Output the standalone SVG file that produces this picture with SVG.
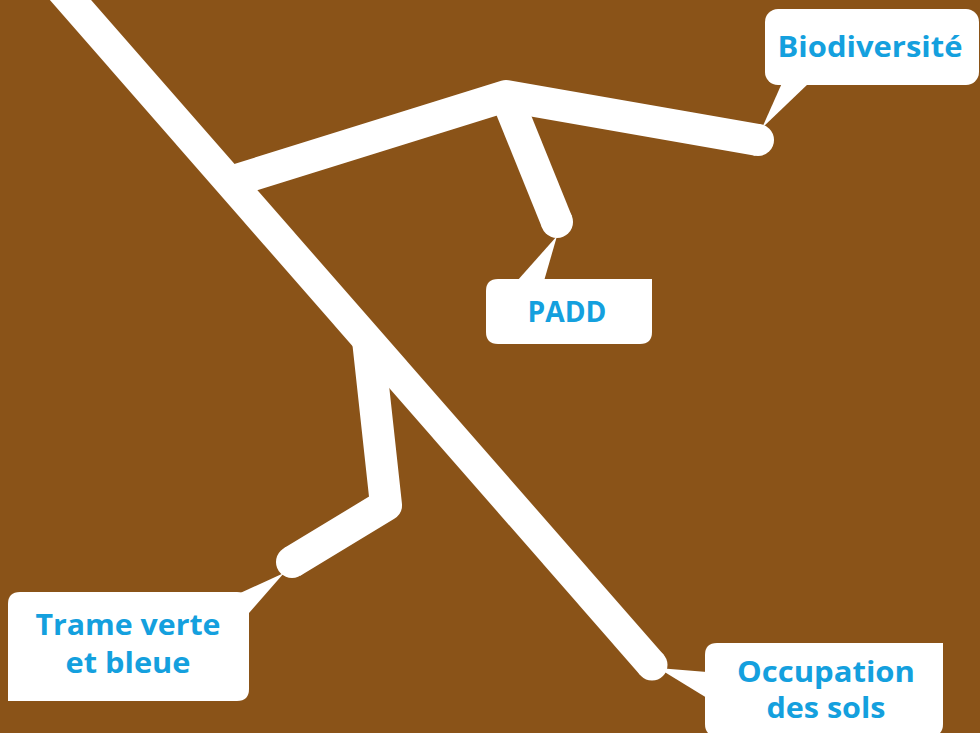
<svg xmlns="http://www.w3.org/2000/svg" width="980" height="733" viewBox="0 0 980 733">
  <style>
    .bg { fill: #8a5318; }
    .branch { fill: none; stroke: #ffffff; stroke-linecap: butt; stroke-linejoin: round; }
    .tip { fill: #ffffff; }
    .bubble { fill: #ffffff; }
    .label { font-family: "Open Sans", "Liberation Sans", sans-serif; font-weight: 700; font-size: 28px; fill: #14a0de; text-anchor: middle; }
  </style>

  <rect class="bg" x="0" y="0" width="980" height="733"/>

  <!-- tree of white branches: flat where they join the trunk, rounded at the free ends -->
  <g id="connectors">
    <path class="branch" stroke-width="31" d="M53,-20 L652,665"/>
    <circle class="tip" cx="652" cy="665" r="15.5"/>

    <path class="branch" stroke-width="32" d="M227,183 L506,96 L758,140"/>
    <circle class="tip" cx="758" cy="140" r="16"/>

    <path class="branch" stroke-width="32" d="M506,96 L557,222"/>
    <circle class="tip" cx="557" cy="222" r="16"/>

    <path class="branch" stroke-width="32" d="M368,340 L386,505 L292,562"/>
    <circle class="tip" cx="292" cy="562" r="16"/>
  </g>

  <!-- callout: Biodiversité -->
  <g id="biodiversite">
    <rect class="bubble" x="765" y="9" width="214" height="76" rx="13"/>
    <polygon class="bubble" points="782,83 809,83 762,128"/>
    <text class="label" x="870" y="57" textLength="185" lengthAdjust="spacingAndGlyphs">Biodiversité</text>
  </g>

  <!-- callout: PADD -->
  <g id="padd">
    <path class="bubble" d="M498,279 H652 V332 Q652,344 640,344 H498 Q486,344 486,332 V291 Q486,279 498,279 Z"/>
    <polygon class="bubble" points="517,281 544,281 557,236"/>
    <text class="label" x="567" y="322" textLength="79" lengthAdjust="spacingAndGlyphs">PADD</text>
  </g>

  <!-- callout: Trame verte et bleue -->
  <g id="trame">
    <path class="bubble" d="M20,592 H237 Q249,592 249,604 V689 Q249,701 237,701 H8 V604 Q8,592 20,592 Z"/>
    <polygon class="bubble" points="238,594 249,613 284,573"/>
    <text class="label" x="128" y="635" textLength="185" lengthAdjust="spacingAndGlyphs">Trame verte</text>
    <text class="label" x="128" y="673" textLength="125" lengthAdjust="spacingAndGlyphs">et bleue</text>
  </g>

  <!-- callout: Occupation des sols -->
  <g id="occupation">
    <path class="bubble" d="M717,643 H943 V724 Q943,736 931,736 H717 Q705,736 705,724 V655 Q705,643 717,643 Z"/>
    <polygon class="bubble" points="707,672 707,698 658,668"/>
    <text class="label" x="826" y="682" textLength="178" lengthAdjust="spacingAndGlyphs">Occupation</text>
    <text class="label" x="826" y="718" textLength="119" lengthAdjust="spacingAndGlyphs">des sols</text>
  </g>
</svg>
